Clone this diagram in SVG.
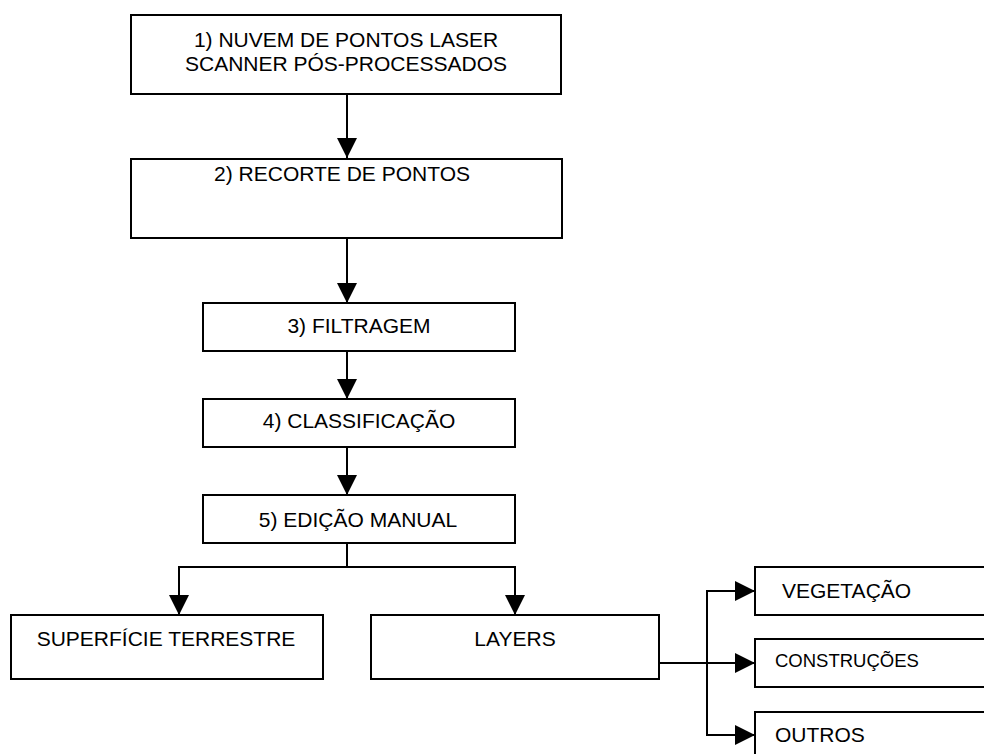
<svg xmlns="http://www.w3.org/2000/svg" width="984" height="754" viewBox="0 0 984 754">
<style>
.box{fill:#fff;stroke:#000;stroke-width:2}
.t{font-family:"Liberation Sans",Arial,sans-serif;font-size:21px;fill:#000}
.c{text-anchor:middle}
.ln{fill:none;stroke:#000;stroke-width:2}
</style>
<defs>
<marker id="ah" viewBox="0 0 20 20" refX="20" refY="10" markerWidth="20" markerHeight="20" markerUnits="userSpaceOnUse" orient="auto">
<path d="M0,0 L20,10 L0,20 z" fill="#000"/>
</marker>
</defs>
<rect width="984" height="754" fill="#fff"/>
<g id="connectors">
<line class="ln" x1="347" y1="94" x2="347" y2="158" marker-end="url(#ah)"/>
<line class="ln" x1="347" y1="238" x2="347" y2="303" marker-end="url(#ah)"/>
<line class="ln" x1="347" y1="351" x2="347" y2="399" marker-end="url(#ah)"/>
<line class="ln" x1="347" y1="447" x2="347" y2="495" marker-end="url(#ah)"/>
<polyline class="ln" points="347,543 347,567"/>
<polyline class="ln" points="347,567 179,567 179,615" marker-end="url(#ah)"/>
<polyline class="ln" points="347,567 515,567 515,615" marker-end="url(#ah)"/>
<line class="ln" x1="659" y1="663" x2="755" y2="663" marker-end="url(#ah)"/>
<polyline class="ln" points="707,663 707,591 755,591" marker-end="url(#ah)"/>
<polyline class="ln" points="707,663 707,735 755,735" marker-end="url(#ah)"/>
</g>
<g id="n1">
<rect class="box" x="131" y="15" width="430" height="79"/>
<text class="t c" x="346" y="47">1) NUVEM DE PONTOS LASER</text>
<text class="t c" x="346" y="71">SCANNER PÓS-PROCESSADOS</text>
</g>
<g id="n2">
<rect class="box" x="131" y="159" width="431" height="79"/>
<text class="t c" x="342" y="181">2) RECORTE DE PONTOS</text>
</g>
<g id="n3">
<rect class="box" x="203" y="303" width="312" height="48"/>
<text class="t c" x="359" y="333">3) FILTRAGEM</text>
</g>
<g id="n4">
<rect class="box" x="203" y="399" width="312" height="48"/>
<text class="t c" x="359" y="428">4) CLASSIFICAÇÃO</text>
</g>
<g id="n5">
<rect class="box" x="203" y="495" width="312" height="48"/>
<text class="t c" x="358" y="527">5) EDIÇÃO MANUAL</text>
</g>
<g id="n6">
<rect class="box" x="11" y="615" width="312" height="64"/>
<text class="t c" x="166" y="646">SUPERFÍCIE TERRESTRE</text>
</g>
<g id="n7">
<rect class="box" x="371" y="615" width="288" height="64"/>
<text class="t c" x="515" y="646">LAYERS</text>
</g>
<g id="n8">
<rect class="box" x="755" y="567" width="240" height="48"/>
<text class="t" x="782" y="598">VEGETAÇÃO</text>
</g>
<g id="n9">
<rect class="box" x="755" y="639" width="240" height="48"/>
<text class="t" x="775" y="667" style="font-size:18.5px">CONSTRUÇÕES</text>
</g>
<g id="n10">
<rect class="box" x="755" y="712" width="240" height="60"/>
<text class="t" x="775" y="742">OUTROS</text>
</g>
</svg>
